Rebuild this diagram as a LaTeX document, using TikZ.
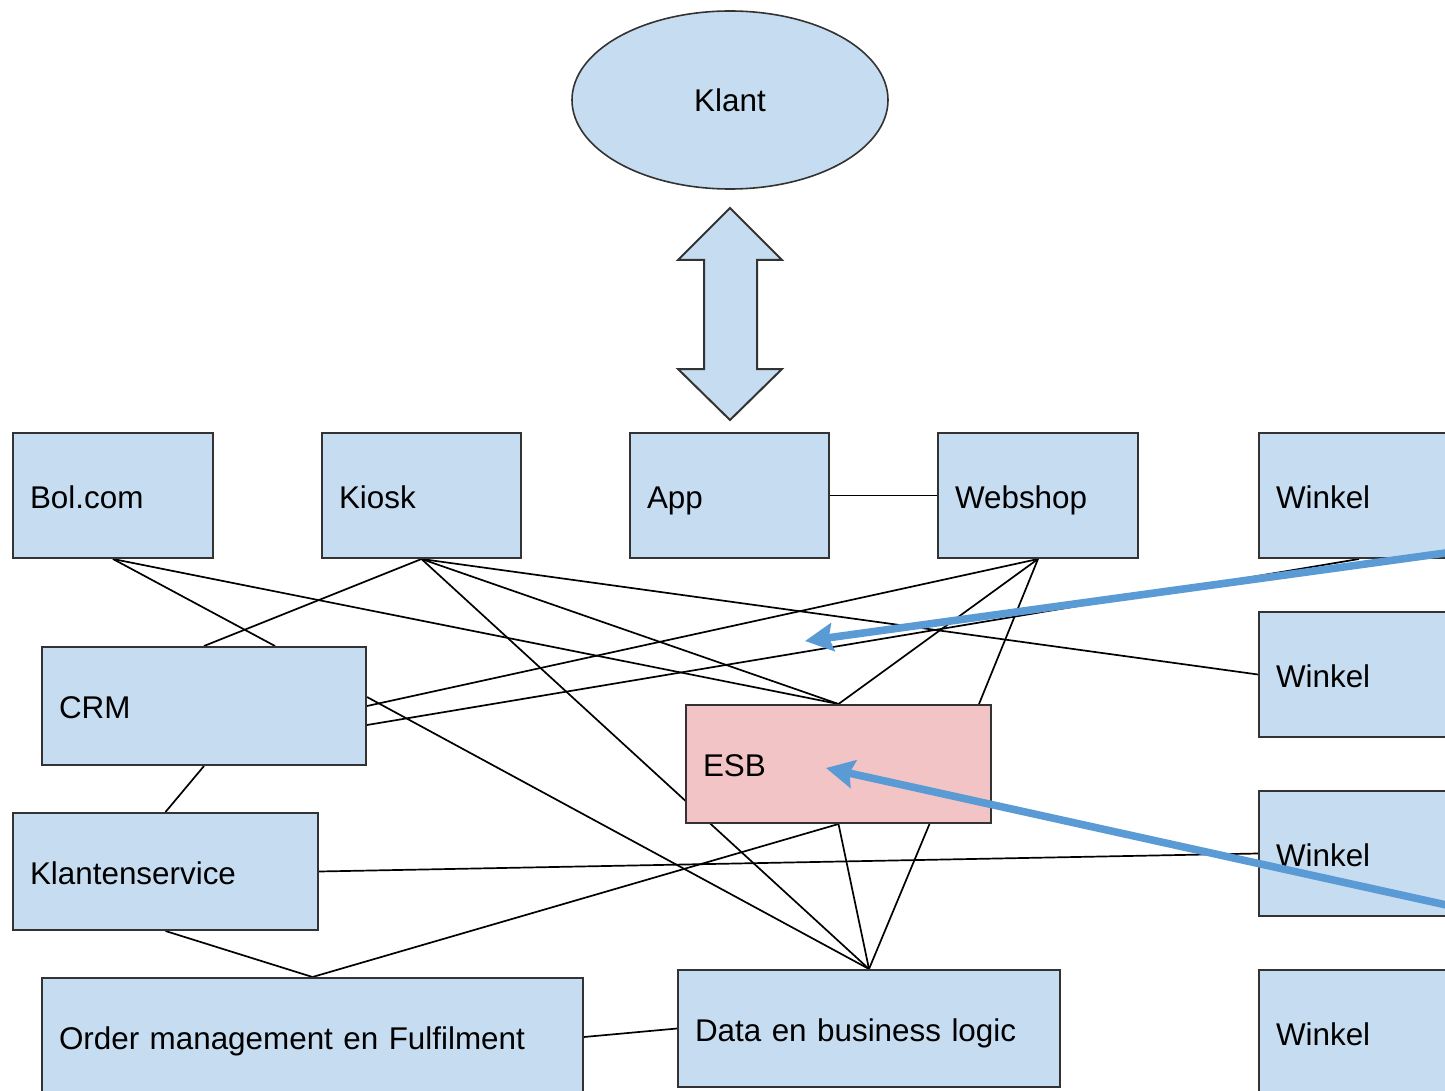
\documentclass[tikz,border=0pt]{standalone}
\usepackage{fontspec}
\setmainfont{Liberation Sans}
\usetikzlibrary{shapes.geometric,arrows.meta,calc}
\pgfdeclarelayer{bg}
\pgfdeclarelayer{paper}
\pgfsetlayers{paper,bg,main}
\definecolor{boxblue}{HTML}{C6DCF0}
\definecolor{esbpink}{HTML}{F3C4C5}
\definecolor{bordergray}{HTML}{333333}
\definecolor{arrowblue}{HTML}{5B9BD5}
\tikzset{
  lbl/.style={font=\fontsize{15.7pt}{18pt}\selectfont},
  box/.style={lbl, draw=bordergray, line width=1pt, fill=boxblue, rectangle,
    inner xsep=8.5pt, inner ysep=0pt, align=left, text height=13.5pt, text depth=1pt},
  link/.style={draw=black, line width=0.85pt},
  bluearrow/.style={draw=arrowblue, line width=3.8pt,
    -{Stealth[length=14pt,width=14pt,inset=2pt]}},
  dblarrow/.style={draw=bordergray, line width=1pt, fill=boxblue, line join=miter}
}
\begin{document}
\begin{tikzpicture}[x=0.5pt,y=-0.5pt]
\clip (0,0) rectangle (1445,1091);
\begin{pgfonlayer}{paper}
\fill[white] (0,0) rectangle (1445,1091);
\end{pgfonlayer}

% nodes
\node[lbl, ellipse, draw=bordergray, line width=0.8pt, fill=boxblue,
  minimum width=158pt, minimum height=89pt, inner sep=0pt] (klant) at (730,100) {Klant};

\node[box, minimum width=100pt, minimum height=62.5pt, text width=83pt] (bol) at (113,495.5) {Bol.com};
\node[box, minimum width=99.5pt, minimum height=62.5pt, text width=82.5pt] (kiosk) at (421.5,495.5) {Kiosk};
\node[box, minimum width=99.5pt, minimum height=62.5pt, text width=82.5pt] (app) at (729.5,495.5) {App};
\node[box, minimum width=100pt, minimum height=62.5pt, text width=83pt] (web) at (1038,495.5) {Webshop};
\node[box, minimum width=100pt, minimum height=62.5pt, text width=83pt] (w1) at (1359,495.5) {Winkel};
\node[box, minimum width=100pt, minimum height=62.5pt, text width=83pt] (w2) at (1359,674.5) {Winkel};
\node[box, minimum width=100pt, minimum height=62.5pt, text width=83pt] (w3) at (1359,853.5) {Winkel};
\node[box, minimum width=100pt, minimum height=62.5pt, text width=83pt] (w4) at (1359,1032.5) {Winkel};
\node[box, minimum width=162pt, minimum height=59pt, text width=145pt] (crm) at (204,706) {CRM};
\node[box, fill=esbpink, minimum width=152.5pt, minimum height=59pt, text width=135.5pt] (esb) at (838.5,764) {ESB};
\node[box, minimum width=152.5pt, minimum height=58.5pt, text width=135.5pt] (ks) at (165.5,871.5) {Klantenservice};
\node[box, minimum width=270.5pt, minimum height=59pt, text width=253.5pt] (ord) at (312.5,1037) {Order management en Fulfilment};
\node[box, minimum width=191pt, minimum height=58.5pt, text width=174pt] (data) at (869,1028.5) {Data en business logic};

% double arrow between Klant and App
\draw[dblarrow] (730,208) -- (782,260) -- (757,260) -- (757,369) -- (782,369) -- (730,420)
  -- (678,369) -- (704,369) -- (704,260) -- (678,260) -- cycle;

% connectors (behind boxes)
\begin{pgfonlayer}{bg}
\draw[link] (app.east) -- (web.west);
\draw[link] (bol.south) -- ($(crm.north)+(71,0)$);
\draw[link] (bol.south) -- (esb.north);
\draw[link] (kiosk.south) -- (crm.north);
\draw[link] (kiosk.south) -- (esb.north);
\draw[link] (kiosk.south) -- (data.north);
\draw[link] (kiosk.south) -- (w2.west);
\draw[link] (web.south) -- (crm.east);
\draw[link] (web.south) -- (esb.north);
\draw[link] (web.south) -- ($(esb.north east)+(-13,0)$);
\draw[link] (w1.south) -- ($(crm.east)+(0,19)$);
\draw[link] ($(crm.east)+(0,-9)$) -- (data.north);
\draw[link] (crm.south) -- (ks.north);
\draw[link] (ks.east) -- (w3.west);
\draw[link] (ks.south) -- (ord.north);
\draw[link] (ord.north) -- (esb.south);
\draw[link] (ord.east) -- (data.west);
\draw[link] (esb.south) -- (data.north);
\draw[link] ($(esb.south)+(91,0)$) -- (data.north);
\end{pgfonlayer}

% blue arrows
\coordinate (b1s) at (1460,551);
\coordinate (b1t) at (805,641);
\coordinate (b2s) at (1460,908);
\coordinate (b2t) at (826,768);
\draw[bluearrow] (b1s) -- (b1t);
\draw[bluearrow] (b2s) -- (b2t);
\end{tikzpicture}
\end{document}
